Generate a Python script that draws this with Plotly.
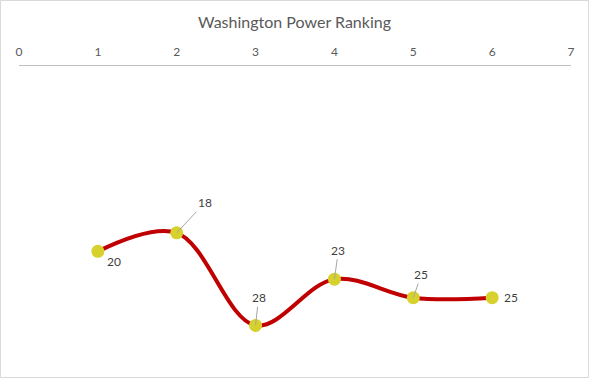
import plotly.graph_objects as go

weeks = [1, 2, 3, 4, 5, 6]
ranks = [20, 18, 28, 23, 25, 25]
# label placement: (dx, dy, leader)
label_offsets = [(16, 10, False), (28, -30, True), (3, -28, True), (4, -29, True), (8, -23, True), (19, 0, False)]

W, H = 589, 378
ml, mr, mt, mb = 19, 18, 66, 34
FONT = "Lato, Open Sans, sans-serif"

fig = go.Figure()
fig.add_trace(go.Scatter(
    x=weeks, y=ranks, mode="lines+markers",
    line=dict(color="#C00000", width=4, shape="spline", smoothing=1),
    marker=dict(color="#D6D12C", size=13, line=dict(width=0)),
    hoverinfo="skip", showlegend=False,
))

for xv, yv, (dx, dy, leader) in zip(weeks, ranks, label_offsets):
    if leader:
        fig.add_annotation(x=xv, y=yv, text=str(yv), showarrow=True, arrowhead=0,
                           arrowwidth=1, arrowcolor="#A6A6A6", ax=dx, ay=dy,
                           font=dict(size=12, color="#404040", family=FONT))
    else:
        fig.add_annotation(x=xv, y=yv, text=str(yv), showarrow=False,
                           xshift=dx, yshift=-dy,
                           font=dict(size=12, color="#404040", family=FONT))

pw, ph = W - ml - mr, H - mt - mb
fig.add_shape(type="rect", xref="paper", yref="paper",
              x0=-(ml - 0.5) / pw, x1=1 + (mr - 0.5) / pw,
              y0=-(mb - 0.5) / ph, y1=1 + (mt - 0.5) / ph,
              line=dict(color="#D9D9D9", width=1), layer="below")

fig.update_layout(
    width=W, height=H,
    margin=dict(l=ml, r=mr, t=mt, b=mb),
    paper_bgcolor="white", plot_bgcolor="white",
    title=dict(text="Washington Power Ranking", x=0.5, xanchor="center",
               y=1 - 22 / H, yanchor="middle",
               font=dict(size=16, color="#595959", family=FONT)),
    xaxis=dict(side="top", range=[0, 7], dtick=1, tick0=0, showgrid=False, zeroline=False,
               showline=True, linecolor="#BFBFBF", linewidth=1, ticks="", ticklen=0,
               ticklabelstandoff=4,
               tickfont=dict(size=12, color="#595959", family=FONT),
               fixedrange=True),
    yaxis=dict(range=[30, 0], visible=False, showgrid=False, zeroline=False, fixedrange=True),
)

fig.write_html("out.html", config={"displayModeBar": False},
               post_script="document.body.style.margin='0';")
